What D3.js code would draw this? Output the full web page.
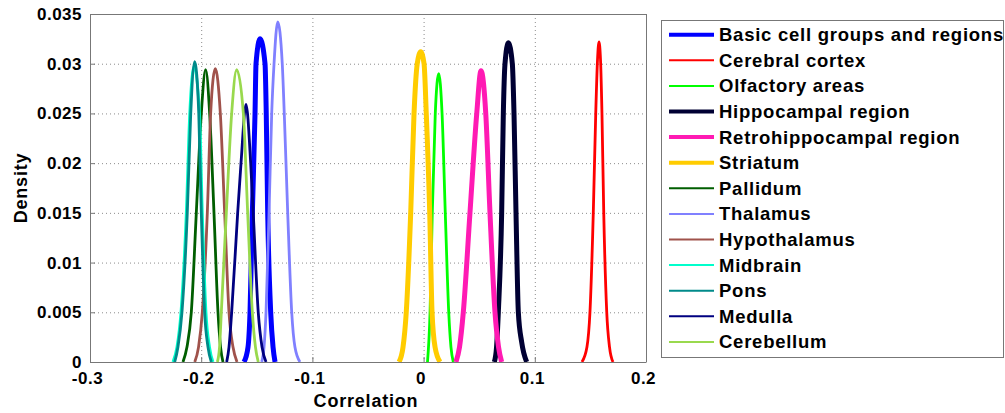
<!DOCTYPE html>
<html>
<head>
<meta charset="utf-8">
<script src="https://cdn.jsdelivr.net/npm/d3@7"></script>
<style>
  body { margin: 0; background: #fff; }
  svg text { font-family: "Liberation Sans", Arial, sans-serif; font-weight: bold; fill: #000; }
</style>
</head>
<body>
<div id="chart"></div>
<script>
// legend entries, in plot order
var categories = ["Basic cell groups and regions", "Cerebral cortex", "Olfactory areas",
  "Hippocampal region", "Retrohippocampal region", "Striatum", "Pallidum", "Thalamus",
  "Hypothalamus", "Midbrain", "Pons", "Medulla", "Cerebellum"];

// density curves (correlation, density)
var basicX = [-0.1615, -0.1579, -0.1561, -0.1540, -0.1516, -0.1507, -0.1471, -0.1426, -0.1415, -0.1402, -0.1375, -0.1354, -0.1336];
var basicY = [0, 0.0015, 0.005, 0.015, 0.025, 0.030, 0.0325, 0.030, 0.025, 0.015, 0.005, 0.0015, 0];
var cortexX = [0.1424, 0.1469, 0.1496, 0.1526, 0.1548, 0.1564, 0.1577, 0.1591, 0.1604, 0.1620, 0.1647, 0.1672, 0.1703];
var cortexY = [0, 0.0015, 0.005, 0.015, 0.025, 0.0304, 0.0322, 0.0304, 0.025, 0.015, 0.005, 0.0015, 0];
var olfactoryX = [0.0035, 0.0058, 0.0078, 0.0105, 0.0136, 0.0166, 0.0195, 0.0226, 0.0246, 0.0267];
var olfactoryY = [0, 0.005, 0.015, 0.025, 0.029, 0.025, 0.015, 0.005, 0.0015, 0];
var hippoX = [0.0636, 0.0656, 0.0672, 0.0702, 0.0717, 0.0732, 0.0762, 0.0798, 0.0813, 0.0831, 0.0852, 0.0882, 0.0927];
var hippoY = [0, 0.0015, 0.005, 0.015, 0.025, 0.030, 0.0321, 0.030, 0.025, 0.015, 0.005, 0.002, 0];
var retroX = [0.0291, 0.0323, 0.0357, 0.0417, 0.0478, 0.0516, 0.0559, 0.0597, 0.0642, 0.0674, 0.0702];
var retroY = [0, 0.0015, 0.005, 0.015, 0.025, 0.0293, 0.025, 0.015, 0.005, 0.0015, 0];
var striatumX = [-0.0221, -0.0185, -0.0156, -0.0116, -0.0086, -0.0057, -0.0026, 0.0004, 0.0024, 0.0055, 0.0076, 0.0103, 0.0148];
var striatumY = [0, 0.0015, 0.005, 0.015, 0.025, 0.030, 0.0312, 0.030, 0.025, 0.015, 0.005, 0.0015, 0];
var pallidumX = [-0.2164, -0.2128, -0.2089, -0.2044, -0.1999, -0.1960, -0.1924, -0.1885, -0.1849, -0.1826, -0.1804];
var pallidumY = [0, 0.0015, 0.005, 0.015, 0.025, 0.0294, 0.025, 0.015, 0.005, 0.0015, 0];
var thalamusX = [-0.1456, -0.1435, -0.1417, -0.1390, -0.1366, -0.1345, -0.1312, -0.1271, -0.1253, -0.1222, -0.1186, -0.1157, -0.1112];
var thalamusY = [0, 0.0015, 0.005, 0.015, 0.025, 0.030, 0.0342, 0.030, 0.025, 0.015, 0.005, 0.0015, 0];
var hypoX = [-0.2058, -0.2024, -0.1990, -0.1945, -0.1915, -0.1873, -0.1828, -0.1789, -0.1750, -0.1714, -0.1678];
var hypoY = [0, 0.0015, 0.005, 0.015, 0.025, 0.0295, 0.025, 0.015, 0.005, 0.0015, 0];
var midbrainX = [-0.2254, -0.2218, -0.2182, -0.2134, -0.2103, -0.2065, -0.2015, -0.1990, -0.1957, -0.1925, -0.1894];
var midbrainY = [0, 0.0015, 0.005, 0.015, 0.025, 0.0297, 0.025, 0.015, 0.005, 0.0015, 0];
var ponsX = [-0.2238, -0.2209, -0.2173, -0.2125, -0.2094, -0.2058, -0.2022, -0.1999, -0.1969, -0.1939, -0.1909];
var ponsY = [0, 0.0015, 0.005, 0.015, 0.025, 0.0302, 0.025, 0.015, 0.005, 0.0015, 0];
var medullaX = [-0.1771, -0.1750, -0.1726, -0.1672, -0.1642, -0.1597, -0.1555, -0.1532, -0.1487, -0.1453, -0.1417];
var medullaY = [0, 0.0015, 0.005, 0.015, 0.020, 0.0259, 0.020, 0.015, 0.005, 0.0015, 0];
var cerebellumX = [-0.1855, -0.1835, -0.1819, -0.1774, -0.1726, -0.1681, -0.1621, -0.1582, -0.1540, -0.1512, -0.1487];
var cerebellumY = [0, 0.0015, 0.005, 0.015, 0.025, 0.0294, 0.025, 0.015, 0.005, 0.0015, 0];

var xTicks = [-0.3, -0.2, -0.1, 0, 0.1, 0.2];
var yTicks = [0, 0.005, 0.01, 0.015, 0.02, 0.025, 0.03, 0.035];

var colors = ["#0000ff", "#ff0000", "#00ff00", "#000033", "#ff1ab3", "#ffcc00", "#005e00",
  "#8080ff", "#a0524b", "#00ffcc", "#008a8a", "#000080", "#99d94d"];
var thick = [true, false, false, true, true, true, false, false, false, false, false, false, false];

var xsList = [basicX, cortexX, olfactoryX, hippoX, retroX, striatumX, pallidumX, thalamusX, hypoX, midbrainX, ponsX, medullaX, cerebellumX];
var ysList = [basicY, cortexY, olfactoryY, hippoY, retroY, striatumY, pallidumY, thalamusY, hypoY, midbrainY, ponsY, medullaY, cerebellumY];

var width = 1005, height = 413;
var plotL = 90, plotR = 646, plotT = 14, plotB = 362;

var svg = d3.select("#chart").append("svg")
  .attr("width", width)
  .attr("height", height)
  .style("display", "block");

svg.append("rect").attr("width", width).attr("height", height).attr("fill", "#fff");

var x = d3.scaleLinear().domain([-0.3, 0.2]).range([plotL, plotR]);
var y = d3.scaleLinear().domain([0, 0.035]).range([plotB, plotT]);

// grid
var grid = svg.append("g");
grid.selectAll(".gx").data(xTicks.slice(1, -1)).enter().append("line")
  .attr("x1", function (d) { return x(d) + 0.5; }).attr("x2", function (d) { return x(d) + 0.5; })
  .attr("y1", plotT).attr("y2", plotB)
  .attr("stroke", "#8c8c8c").attr("stroke-width", 1).attr("stroke-dasharray", "1,3");
grid.selectAll(".gy").data(yTicks.slice(1, -1)).enter().append("line")
  .attr("x1", plotL).attr("x2", plotR)
  .attr("y1", function (d) { return y(d) + 0.5; }).attr("y2", function (d) { return y(d) + 0.5; })
  .attr("stroke", "#8c8c8c").attr("stroke-width", 1).attr("stroke-dasharray", "1,3");

// curves
var line = d3.line()
  .x(function (d) { return x(d[0]); })
  .y(function (d) { return y(d[1]); })
  .curve(d3.curveMonotoneX);

categories.forEach(function (name, i) {
  var pts = xsList[i].map(function (v, j) { return [v, ysList[i][j]]; });
  svg.append("path")
    .datum(pts)
    .attr("d", line)
    .attr("fill", "none")
    .attr("stroke", colors[i])
    .attr("stroke-width", thick[i] ? 5 : 2.8)
    .attr("stroke-linejoin", "round");
});

function fmt(d) { return d === 0 ? "0" : String(+d.toFixed(3)); }

// axes (box with inward ticks)
var xAxis = svg.append("g").attr("transform", "translate(0," + plotB + ")")
  .call(d3.axisBottom(x).tickValues(xTicks).tickSizeInner(-5).tickSizeOuter(0).tickFormat(fmt));
xAxis.select(".domain").attr("stroke", "#777");
xAxis.selectAll(".tick line").attr("stroke", "#777");
xAxis.selectAll("text").attr("dy", 0).attr("y", 22).attr("dx", -3)
  .style("font-size", "17px").style("letter-spacing", "0.5px").style("fill", "#000")
  .style("font-family", "Liberation Sans, Arial, sans-serif").style("font-weight", "bold");

var yAxis = svg.append("g").attr("transform", "translate(" + plotL + ",0)")
  .call(d3.axisLeft(y).tickValues(yTicks).tickSizeInner(-5).tickSizeOuter(0).tickFormat(fmt));
yAxis.select(".domain").attr("stroke", "#777");
yAxis.selectAll(".tick line").attr("stroke", "#777");
yAxis.selectAll("text").attr("x", -8)
  .style("font-size", "17px").style("letter-spacing", "0.5px").style("fill", "#000")
  .style("font-family", "Liberation Sans, Arial, sans-serif").style("font-weight", "bold");

svg.append("line").attr("x1", plotL).attr("x2", plotR).attr("y1", plotT + 0.5).attr("y2", plotT + 0.5).attr("stroke", "#777");
svg.append("line").attr("x1", plotR + 0.5).attr("x2", plotR + 0.5).attr("y1", plotT).attr("y2", plotB).attr("stroke", "#777");

// axis titles
svg.append("text").attr("x", (plotL + plotR) / 2 - 2).attr("y", 407)
  .attr("text-anchor", "middle").style("font-size", "18px").style("letter-spacing", "0.8px").text("Correlation");
svg.append("text").attr("transform", "translate(27," + (plotT + plotB) / 2 + ") rotate(-90)")
  .attr("text-anchor", "middle").style("font-size", "18px").style("letter-spacing", "0.8px").text("Density");

// legend
var legend = svg.append("g");
legend.append("rect").attr("x", 661.5).attr("y", 20.5).attr("width", 342).attr("height", 337)
  .attr("fill", "#fff").attr("stroke", "#777");
var rows = legend.selectAll(".row").data(categories).enter().append("g")
  .attr("transform", function (d, i) { return "translate(0," + (34.7 + i * 25.6) + ")"; });
rows.append("line").attr("x1", 669).attr("x2", 714).attr("y1", 0).attr("y2", 0)
  .attr("stroke", function (d, i) { return colors[i]; })
  .attr("stroke-width", function (d, i) { return thick[i] ? 4 : 2; });
rows.append("text").attr("x", 719).attr("y", 0).attr("dy", "0.35em")
  .style("font-size", "18.5px").style("letter-spacing", "0.75px").text(function (d) { return d; });
</script>
</body>
</html>
